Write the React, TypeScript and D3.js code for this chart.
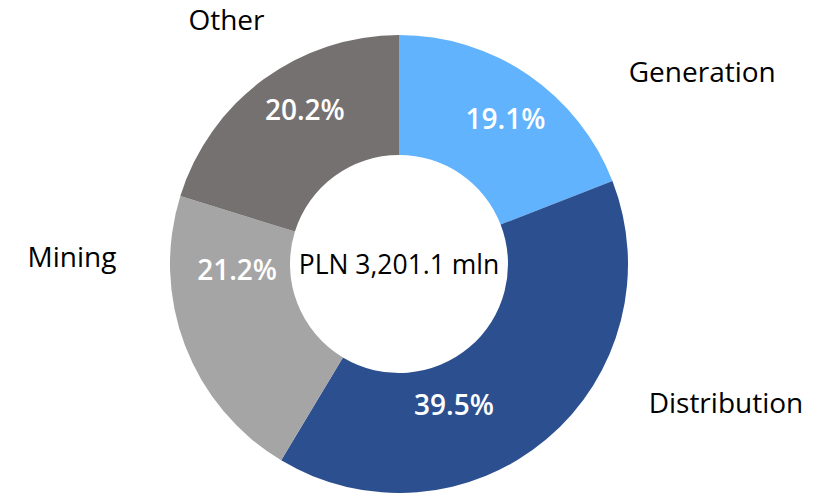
import React from "react";
import * as d3 from "d3";

const categories = ["Generation", "Distribution", "Mining", "Other"];
const shares = [19.1, 39.5, 21.2, 20.2];
const colors = ["#61B3FD", "#2C508F", "#A5A5A5", "#767171"];
const pctLabels = ["19.1%", "39.5%", "21.2%", "20.2%"];
const centerLabel = "PLN 3,201.1 mln";
// label nudges relative to computed anchors
const pctOffsets: [number, number][] = [[11, -6], [-54, 12], [-4, -54], [6, -18]];
const nameOffsets: [number, number][] = [[157, 22], [160, -59], [-85, -99], [-19, -36]];

const W = 838;
const H = 493;

export default function App() {
  const cx = 399;
  const cy = 264;
  const outerR = 229;
  const innerR = 109;
  const data = categories.map((c, i) => ({ name: c, value: shares[i], i }));
  const pie = d3.pie<any>().value((d) => d.value).sort(null);
  const arcs = pie(data);
  const arc = d3.arc<any>().innerRadius(innerR).outerRadius(outerR);
  const labelArc = d3.arc<any>().innerRadius(outerR + 30).outerRadius(outerR + 30);
  const font = "'Open Sans', sans-serif";
  return (
    <svg width={W} height={H} style={{ position: "absolute", left: 0, top: 0, background: "#fff" }}>
      <g transform={`translate(${cx},${cy})`}>
        {arcs.map((a) => (
          <path key={a.data.name} d={arc(a) as string} fill={colors[a.data.i]} />
        ))}
        {arcs.map((a) => {
          const [x, y] = arc.centroid(a);
          const [ox, oy] = pctOffsets[a.data.i];
          return (
            <text key={"p" + a.data.name} x={x + ox} y={y + oy} dy="0.36em" textAnchor="middle"
              fontFamily={font} fontSize={28} fontWeight={600} fill="#fff">
              {pctLabels[a.data.i]}
            </text>
          );
        })}
        {arcs.map((a) => {
          const [x, y] = labelArc.centroid(a);
          const [ox, oy] = nameOffsets[a.data.i];
          return (
            <text key={"n" + a.data.name} x={x + ox} y={y + oy} dy="0.36em" textAnchor="middle"
              fontFamily={font} fontSize={28} fill="#000">
              {a.data.name}
            </text>
          );
        })}
        <text x={0} y={0} dy="0.36em" textAnchor="middle" fontFamily={font} fontSize={26.5} fill="#000">
          {centerLabel}
        </text>
      </g>
    </svg>
  );
}
